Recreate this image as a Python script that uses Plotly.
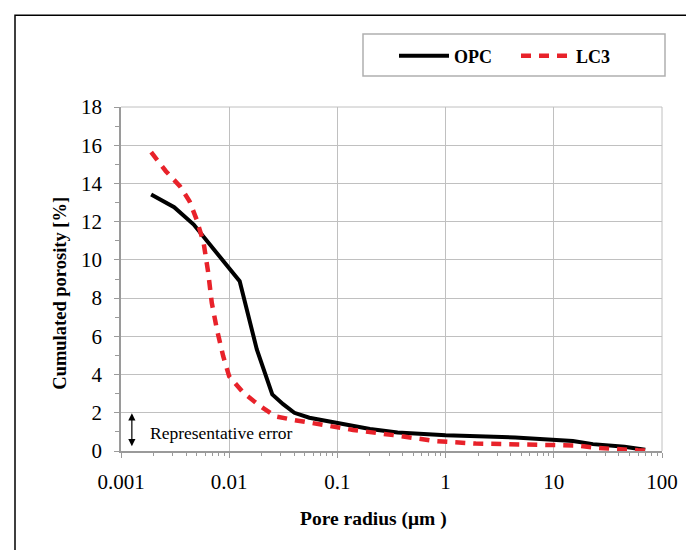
import math
import plotly.graph_objects as go

# ---- data ----
opc_radius = [0.0019, 0.0031, 0.0047, 0.0125, 0.018, 0.025, 0.0315, 0.04, 0.055, 0.1, 0.2, 0.36, 1, 4.4, 10, 15, 23, 45, 70]
opc_porosity = [13.42, 12.76, 11.85, 8.88, 5.31, 2.96, 2.45, 2.0, 1.74, 1.45, 1.15, 0.97, 0.83, 0.71, 0.61, 0.52, 0.36, 0.22, 0.06]

lc3_radius = [0.0019, 0.0026, 0.0035, 0.0043, 0.005, 0.0058, 0.0064, 0.0069, 0.0077, 0.0088, 0.01, 0.0135,
              0.0185, 0.0265, 0.038, 0.06, 0.14, 0.33, 0.8, 1.9, 4.4, 10, 16, 25, 38, 60, 70]
lc3_porosity = [15.64, 14.64, 13.86, 13.07, 12.11, 10.9, 9.33, 7.76, 6.36, 4.96, 3.91, 3.05,
                2.43, 1.82, 1.64, 1.45, 1.10, 0.83, 0.52, 0.39, 0.34, 0.30, 0.29, 0.16, 0.08, 0.04, 0.03]

x_tickvals = [0.001, 0.01, 0.1, 1, 10, 100]
x_ticktext = ["0.001", "0.01", "0.1", "1", "10", "100"]

FONT = "Liberation Serif"

fig = go.Figure()
fig.add_trace(go.Scatter(x=opc_radius, y=opc_porosity, mode="lines", name="OPC",
                         line=dict(color="black", width=4)))
fig.add_trace(go.Scatter(x=lc3_radius, y=lc3_porosity, mode="lines", name="LC3",
                         line=dict(color="#e8222a", width=4.5, dash="10px,8px")))

minor_vals = [m * 10 ** e for e in range(-3, 2) for m in range(2, 10)]

fig.update_xaxes(
    type="log", range=[-3, 2],
    tickvals=x_tickvals, ticktext=x_ticktext,
    showgrid=True, gridcolor="#c0c0c0", gridwidth=1,
    showline=True, linecolor="#9a9a9a", linewidth=1.5,
    ticks="outside", ticklen=5, tickcolor="#9a9a9a",
    minor=dict(tickvals=minor_vals, ticks="outside", ticklen=3, tickcolor="#9a9a9a", showgrid=False),
    tickfont=dict(family=FONT, size=21, color="black"),
    ticklabelstandoff=6,
    zeroline=False, automargin=False,
)
fig.update_yaxes(
    range=[0, 18], dtick=2,
    showgrid=True, gridcolor="#c0c0c0", gridwidth=1,
    showline=True, linecolor="#9a9a9a", linewidth=1.5,
    ticks="outside", ticklen=5, tickcolor="#9a9a9a",
    minor=dict(dtick=1, ticks="outside", ticklen=4, tickcolor="#9a9a9a", showgrid=False),
    tickfont=dict(family=FONT, size=21, color="black"),
    ticklabelstandoff=8,
    zeroline=False, automargin=False,
)

# page offset of the figure inside the browser window (body margin)
OFF = 8
W, H = 694, 550
L, T = 121 - OFF, 107 - OFF
R = W - (662 - OFF)
B = H - (451.5 - OFF)
pw, ph = W - L - R, H - T - B


def px(s):
    return (s - OFF - L) / pw


def py(s):
    return (H - B - (s - OFF)) / ph


shapes = [
    # outer frame
    dict(type="rect", xref="paper", yref="paper", x0=px(15), x1=px(690), y0=py(570), y1=py(15),
         line=dict(color="black", width=1.5), layer="below"),
    # legend box
    dict(type="rect", xref="paper", yref="paper", x0=px(363), x1=px(665), y0=py(76), y1=py(34),
         line=dict(color="#b0b0b0", width=1.5)),
    # right and top frame of plot area
    dict(type="line", xref="paper", yref="paper", x0=1, x1=1, y0=0, y1=1, line=dict(color="#c0c0c0", width=1)),
    dict(type="line", xref="paper", yref="paper", x0=0, x1=1, y0=1, y1=1, line=dict(color="#c0c0c0", width=1)),
]

err_x = math.log10(0.00126)
annotations = [
    dict(x=err_x, y=0.25, ax=err_x, ay=2.05, xref="x", yref="y", axref="x", ayref="y",
         text="", showarrow=True, arrowhead=2, startarrowhead=2, arrowside="end+start",
         arrowsize=1.2, arrowwidth=1.2, arrowcolor="black", startarrowsize=1.2),
    dict(x=math.log10(0.00178), y=0.92, xref="x", yref="y", xanchor="left", yanchor="middle",
         text="Representative error", showarrow=False,
         font=dict(family=FONT, size=17.5, color="black")),
    # axis titles
    dict(x=px(373), y=py(520), xref="paper", yref="paper", xanchor="center", yanchor="middle",
         text="<b>Pore radius (μm )</b>", showarrow=False,
         font=dict(family=FONT, size=19.5, color="black")),
    dict(x=px(60), y=py(294), xref="paper", yref="paper", xanchor="center", yanchor="middle",
         text="<b>Cumulated porosity [%]</b>", showarrow=False, textangle=-90,
         font=dict(family=FONT, size=18.5, color="black")),
]

fig.update_layout(
    width=W, height=H,
    margin=dict(l=L, r=R, t=T, b=B, autoexpand=False),
    paper_bgcolor="white", plot_bgcolor="white",
    shapes=shapes, annotations=annotations,
    showlegend=True,
    legend=dict(orientation="h", x=px(394), y=py(56), xanchor="left", yanchor="middle",
                bgcolor="rgba(0,0,0,0)", borderwidth=0,
                font=dict(family=FONT, size=18, color="black", weight="bold"),
                entrywidth=57, entrywidthmode="pixels", itemwidth=50),
)

fig.write_html("out.html")
